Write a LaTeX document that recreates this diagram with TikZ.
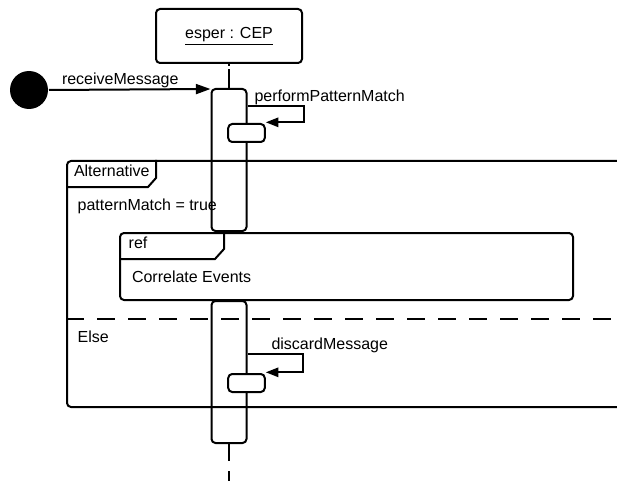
\documentclass[tikz,border=0pt]{standalone}
\usepackage{fontspec}
\setmainfont{Liberation Sans}
\usetikzlibrary{arrows.meta}
\begin{document}
\begin{tikzpicture}[x=0.75pt,y=-0.75pt,
  line width=1.5pt,
  every node/.style={font=\fontsize{12}{14}\selectfont},
  box/.style={draw, rounded corners=3pt, inner sep=0pt},
  bar/.style={draw, rounded corners=3pt, minimum width=26.25pt, minimum height=106.5pt, inner sep=0pt},
  exec/.style={draw, fill=white, rounded corners=3pt, minimum width=27.4pt, minimum height=13.5pt, inner sep=0pt},
  msg/.style={-{Triangle[length=11pt,width=7.5pt]}},
  selfmsg/.style={-{Triangle[length=9.5pt,width=7pt]}},
  txt/.style={inner sep=0pt, anchor=base west},
  sep/.style={dash pattern=on 13.5pt off 9.75pt},
]
\useasboundingbox (0,0) rectangle (617,481);
\fill[white] (0,0) rectangle (617,481);
\clip (0,0) rectangle (617,481);

% lifeline head
\node[box, minimum width=109.5pt, minimum height=40.5pt] (esper) at (229,36) {\underline{esper : CEP}};

% activation bars
\node[bar] (bar1) at (229,160) {};
\node[bar] (bar2) at (229,372) {};

% lifeline segments outside the bars
\coordinate (lifeend) at (229,490);
\draw[dash pattern=on 14.25pt off 2.25pt] (bar1.north) -- (esper.south);
\draw[dash pattern=on 12.75pt off 7.5pt] (bar2.south) -- (lifeend);

% alt combined fragment
\node[box, anchor=north west, minimum width=450pt, minimum height=184.5pt] (alt) at (66,160) {};
\draw (66,187) -- (148,187) -- (156,178) -- (156,160);
\node[txt] (alttag) at (73,176.7) {Alternative};
\node[txt] (guard1) at (76.7,210.7) {patternMatch = true};
\draw[sep] (66,319) -- (640,319);
\node[txt] (guard2) at (76.7,342) {Else};

% interaction use
\node[box, minimum width=339.75pt, minimum height=50.25pt] (ref) at (346.5,266.5) {};
\draw (120,259) -- (215,259) -- (224,249) -- (224,233);
\node[txt] (reftag) at (127.7,248) {ref};
\node[txt] (refname) at (131,282.7) {Correlate Events};

% nested executions
\node[exec] (exec1) at (246.5,133) {};
\node[exec] (exec2) at (246.5,383) {};

% found message
\node[circle, fill, minimum size=28.5pt, inner sep=0pt] (start) at (29,90) {};
\draw[msg] (start.east) node[txt, xshift=9pt, yshift=3.75pt] {receiveMessage}
  -- ([yshift=-0.75pt]bar1.north west);

% self messages
\draw[selfmsg] ([yshift=-13.5pt]bar1.north east)
  node[txt, xshift=4.5pt, yshift=3pt] {performPatternMatch}
  -- ++(56,0) |- ([yshift=0.5pt]exec1.north east);
\draw[selfmsg] ([yshift=-40.5pt]bar2.north east)
  node[txt, xshift=17.25pt, yshift=3.75pt] {discardMessage}
  -- ++(55,0) |- ([yshift=0.5pt]exec2.north east);
\end{tikzpicture}
\end{document}
